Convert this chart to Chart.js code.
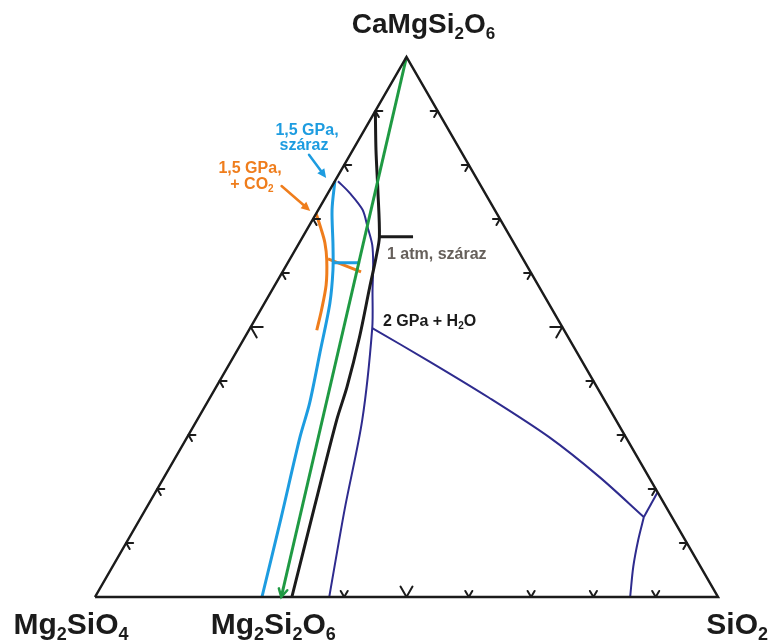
<!DOCTYPE html>
<html>
<head>
<meta charset="utf-8">
<script src="https://cdn.jsdelivr.net/npm/chart.js@4/dist/chart.umd.min.js"></script>
<style>
  html, body { margin: 0; padding: 0; background: #fff; }
  #wrap { width: 770px; height: 642px; }
</style>
</head>
<body>
<div id="wrap"><canvas id="tern" width="770" height="642"></canvas></div>
<script>
// Compositions are [SiO2 wt%, CaMgSi2O6 wt%]; Mg2SiO4 is the rest.
const triangle = [[0, 0], [100, 0], [0, 100], [0, 0]];
const diEnJoin = [[0, 100], [29.9, 0]];

const atm1Dry = [[0, 90], [3.7, 82.8], [7.7, 75.4], [12.3, 66.7], [13.7, 62.8], [15.4, 57.4],
  [18.4, 48.1], [21.0, 38.9], [22.4, 32.8], [26.8, 17.0], [31.6, 0]];
const atm1Tick = [[12.3, 66.7], [17.7, 66.7]];

const gpa15Dry = [[0, 77], [2.2, 71.7], [5.6, 65.2], [7.9, 60.6], [10.5, 54.4], [13.5, 45.2],
  [16.5, 35.9], [18.1, 29.6], [22.5, 14.8], [26.8, 0]];
const gpa15DrySpur = [[7.3, 61.9], [11.6, 61.9]];

const gpa15CO2 = [[0, 71], [2.1, 68.3], [4.1, 65.6], [6.0, 62.4], [8.2, 57.8], [9.8, 53.1], [10.9, 49.4]];
const gpa15CO2Spur = [[6.1, 62.6], [12.6, 60.2]];

const gpa2H2O = [[0.5, 77], [3.5, 74.8], [7.1, 71.7], [9.5, 68.5], [11.9, 65.2], [13.9, 61.5],
  [16.1, 56.9], [19.6, 49.8], [26.5, 32.8], [32.0, 16.1], [37.6, 0]];
const gpa2H2OCotectic = [[19.6, 49.8], [31.9, 43.6], [44.8, 36.9], [58.1, 29.6], [69.9, 22.2], [80.7, 14.8]];
const gpa2H2OUpper = [[80.7, 14.8], [80.6, 19.4]];
const gpa2H2OLower = [[80.7, 14.8], [81.9, 10.6], [83.6, 5.6], [85.9, 0]];

// edge tick positions (percent along each edge)
const leftTicks = [10, 20, 30, 40, 50, 60, 70, 80, 90];
const rightTicks = [10, 20, 30, 40, 50, 60, 70, 80, 90];
const bottomTicks = [40, 50, 60, 70, 80, 90];

// label arrows: [from, to]
const dryArrow = [[-6.6, 81.9], [-1.7, 77.6]];
const co2Arrow = [[-8.1, 76.1], [-1.2, 71.5]];

const SQ = Math.sqrt(3) / 2;
const toXY = p => ({ x: p[0] + p[1] / 2, y: p[1] * SQ });

const BLACK = '#1b1b1b', GREEN = '#1f9a43', BLUE = '#1d9ce0', ORANGE = '#ef7d1c', PURPLE = '#2e2b8e', GREY = '#66605b';

function line(pts, color, width, tension) {
  return {
    data: pts.map(toXY), showLine: true, borderColor: color, backgroundColor: color,
    borderWidth: width, tension: tension || 0, pointRadius: 0, clip: false, fill: false
  };
}

// draws "Mg_2SiO_4" style text, "_x" = subscript char
function drawFormula(ctx, text, x, y, size, align, color) {
  const parts = [];
  for (let i = 0; i < text.length; i++) {
    if (text[i] === '_') { parts.push({ t: text[i + 1], sub: true }); i++; }
    else parts.push({ t: text[i], sub: false });
  }
  const subSize = Math.round(size * 0.6);
  const fontOf = s => `bold ${s}px "Liberation Sans", Arial, sans-serif`;
  let w = 0;
  parts.forEach(p => { ctx.font = fontOf(p.sub ? subSize : size); p.w = ctx.measureText(p.t).width; w += p.w; });
  let cx = align === 'center' ? x - w / 2 : align === 'right' ? x - w : x;
  ctx.fillStyle = color;
  ctx.textBaseline = 'alphabetic';
  ctx.textAlign = 'left';
  parts.forEach(p => {
    ctx.font = fontOf(p.sub ? subSize : size);
    ctx.fillText(p.t, cx, p.sub ? y + size * 0.2 : y);
    cx += p.w;
  });
}

const decor = {
  id: 'decor',
  afterDatasetsDraw(chart) {
    const { ctx, scales: { x, y } } = chart;
    const pix = p => { const q = toXY(p); return [x.getPixelForValue(q.x), y.getPixelForValue(q.y)]; };
    ctx.save();
    ctx.lineCap = 'round';

    // edge ticks
    ctx.strokeStyle = BLACK;
    ctx.lineWidth = 2;
    const tick = (p, dirs, big) => {
      const len = big ? 12 : 7;
      ctx.beginPath();
      dirs.forEach(d => { ctx.moveTo(p[0], p[1]); ctx.lineTo(p[0] + d[0] * len, p[1] + d[1] * len); });
      ctx.stroke();
    };
    leftTicks.forEach(t => tick(pix([0, t]), [[1, 0], [0.5, SQ]], t === 50));
    rightTicks.forEach(t => tick(pix([100 - t, t]), [[-1, 0], [-0.5, SQ]], t === 50));
    bottomTicks.forEach(t => tick(pix([t, 0]), [[-0.5, -SQ], [0.5, -SQ]], t === 50));

    // open arrowhead at the end of the Di-En join
    const a0 = pix(diEnJoin[0]), a1 = pix(diEnJoin[1]);
    const ang = Math.atan2(a1[1] - a0[1], a1[0] - a0[0]);
    ctx.strokeStyle = GREEN;
    ctx.lineWidth = 2.5;
    ctx.beginPath();
    ctx.moveTo(a1[0] - 9 * Math.cos(ang - 0.5), a1[1] - 9 * Math.sin(ang - 0.5));
    ctx.lineTo(a1[0], a1[1]);
    ctx.lineTo(a1[0] - 9 * Math.cos(ang + 0.5), a1[1] - 9 * Math.sin(ang + 0.5));
    ctx.stroke();

    // label arrows
    const arrow = (seg, color) => {
      const s = pix(seg[0]), e = pix(seg[1]);
      const an = Math.atan2(e[1] - s[1], e[0] - s[0]);
      ctx.strokeStyle = color; ctx.fillStyle = color; ctx.lineWidth = 2.5;
      ctx.beginPath(); ctx.moveTo(s[0], s[1]);
      ctx.lineTo(e[0] - 7 * Math.cos(an), e[1] - 7 * Math.sin(an)); ctx.stroke();
      ctx.beginPath();
      ctx.moveTo(e[0], e[1]);
      ctx.lineTo(e[0] - 10 * Math.cos(an - 0.45), e[1] - 10 * Math.sin(an - 0.45));
      ctx.lineTo(e[0] - 10 * Math.cos(an + 0.45), e[1] - 10 * Math.sin(an + 0.45));
      ctx.closePath(); ctx.fill();
    };
    arrow(dryArrow, BLUE);
    arrow(co2Arrow, ORANGE);

    // end-member labels
    const fo = pix([0, 0]), qz = pix([100, 0]), di = pix([0, 100]), en = pix([29.9, 0]);
    drawFormula(ctx, 'CaMgSi_2O_6', di[0] + 17, di[1] - 24, 28, 'center', BLACK);
    drawFormula(ctx, 'Mg_2SiO_4', fo[0] - 24, fo[1] + 37, 30, 'center', BLACK);
    drawFormula(ctx, 'Mg_2Si_2O_6', en[0] - 8, en[1] + 37, 30, 'center', BLACK);
    drawFormula(ctx, 'SiO_2', qz[0] + 50, qz[1] + 37, 30, 'right', BLACK);

    // curve labels
    drawFormula(ctx, '1,5 GPa,', 307, 135, 16, 'center', BLUE);
    drawFormula(ctx, 'száraz', 304, 150, 16, 'center', BLUE);
    drawFormula(ctx, '1,5 GPa,', 250, 173, 16, 'center', ORANGE);
    drawFormula(ctx, '+ CO_2', 252, 189, 16, 'center', ORANGE);
    drawFormula(ctx, '1 atm, száraz', 387, 259, 16, 'left', GREY);
    drawFormula(ctx, '2 GPa + H_2O', 383, 326, 16, 'left', BLACK);
    ctx.restore();
  }
};

new Chart(document.getElementById('tern'), {
  type: 'scatter',
  data: {
    datasets: [
      line(triangle, BLACK, 2.5),
      line(diEnJoin, GREEN, 3),
      line(atm1Dry, BLACK, 3, 0.3),
      line(atm1Tick, BLACK, 3),
      line(gpa15Dry, BLUE, 3, 0.3),
      line(gpa15DrySpur, BLUE, 3),
      line(gpa15CO2, ORANGE, 3, 0.3),
      line(gpa15CO2Spur, ORANGE, 3),
      line(gpa2H2O, PURPLE, 2, 0.3),
      line(gpa2H2OCotectic, PURPLE, 2, 0.3),
      line(gpa2H2OUpper, PURPLE, 2),
      line(gpa2H2OLower, PURPLE, 2, 0.3)
    ]
  },
  options: {
    responsive: false,
    animation: false,
    layout: { padding: { left: 95, right: 52, top: 57, bottom: 45 } },
    scales: {
      x: { type: 'linear', min: 0, max: 100, display: false },
      y: { type: 'linear', min: 0, max: 100 * SQ, display: false }
    },
    plugins: { legend: { display: false }, tooltip: { enabled: false } }
  },
  plugins: [decor]
});
</script>
</body>
</html>
